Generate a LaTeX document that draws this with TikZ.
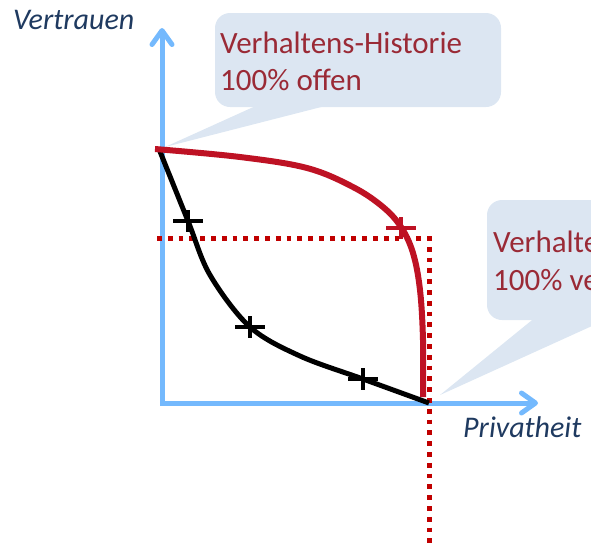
\documentclass[tikz,border=0pt]{standalone}
\usepackage{fontspec}
\setmainfont{Carlito}
\usetikzlibrary{arrows.meta}
\definecolor{axisblue}{HTML}{74B9FD}
\definecolor{labelnavy}{HTML}{1F3A60}
\definecolor{callfill}{HTML}{DCE6F2}
\definecolor{calltext}{HTML}{9A2A36}
\definecolor{curvered}{HTML}{BE1224}
\definecolor{dotred}{HTML}{C00000}
\begin{document}
\begin{tikzpicture}[x=1pt,y=-1pt,
  axisline/.style={draw=axisblue,line width=5pt,line join=miter,
    {Straight Barb[round,length=14pt,width=20pt]}-{Straight Barb[round,length=14pt,width=20pt]}},
  callbox/.style={fill=callfill,rounded corners=15pt},
  callptr/.style={fill=callfill},
  calltxt/.style={text=calltext,inner sep=0pt,anchor=base west,font=\fontsize{31pt}{37pt}\selectfont},
  axislabel/.style={text=labelnavy,inner sep=0pt,anchor=base west,font=\fontsize{30pt}{36pt}\selectfont\itshape},
  dotline/.style={draw=dotred,line width=5pt,dash pattern=on 4.8pt off 6pt},
  blackcurve/.style={draw=black,line width=5pt},
  redcurve/.style={draw=curvered,line width=6pt},
  plusmark/.pic={\draw[line width=4.5pt,pic actions] (-15,0) -- (15,0) (0,-11) -- (0,11);}
]
\useasboundingbox (0,0) rectangle (591,542);
\clip (0,0) rectangle (591,542);

% callout 1
\fill[callbox] (215,13) rectangle (501,107);
\fill[callptr] (260,104) -- (165,147) -- (333,104) -- cycle;
\node[calltxt] (c1a) at (220,53) {Verhaltens-Historie};
\node[calltxt] (c1b) at (220,90) {100\% offen};

% callout 2
\fill[callbox] (487,200) rectangle (640,320);
\fill[callptr] (537,316) -- (440,395) -- (614,316) -- cycle;
\node[calltxt] (c2a) at (493,252) {Verhaltens-Historie};
\node[calltxt] (c2b) at (493,290) {100\% verborgen};

% axes
\coordinate (ytip) at (162,28);
\coordinate (orig) at (162,403);
\coordinate (xtip) at (538,403);
\draw[axisline] (ytip) -- (orig) -- (xtip);
\node[axislabel] (ylab) at (13,29) {Vertrauen};
\node[axislabel] (xlab) at (463,437) {Privatheit};

% dotted guide lines
\coordinate (d0) at (157,238);
\coordinate (d1) at (429,238);
\coordinate (d2) at (429,560);
\draw[dotline] (d0) -- (d1) -- (d2);

% black curve
\draw[blackcurve] plot[smooth,tension=0.55] coordinates {(159,149) (188,221) (210,275) (250,327) (300,356) (363,379) (429,403)};

% red curve
\draw[redcurve] plot[smooth,tension=0.6] coordinates {(155,149) (240,157) (307,168) (353,187) (383,207) (401,227) (413,253) (420,290) (423,340) (423,397)};

% crosses
\pic[draw=black] at (188,221) {plusmark};
\pic[draw=black] at (250,327) {plusmark};
\pic[draw=black] at (363,379) {plusmark};
\pic[draw=curvered] at (401,228) {plusmark};
\end{tikzpicture}
\end{document}
